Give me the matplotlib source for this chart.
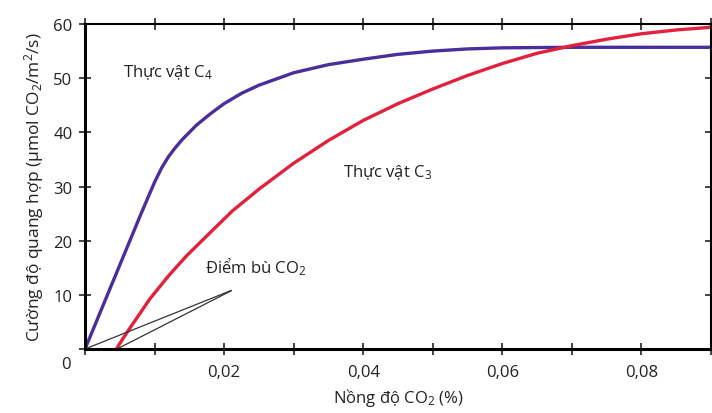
import matplotlib
matplotlib.use("Agg")
import matplotlib.pyplot as plt
from matplotlib.ticker import MultipleLocator, FuncFormatter

plt.rcParams['font.family'] = ['Open Sans', 'DejaVu Sans']
plt.rcParams['mathtext.fontset'] = 'custom'
plt.rcParams['mathtext.rm'] = 'Open Sans'
plt.rcParams['mathtext.it'] = 'Open Sans'
plt.rcParams['mathtext.default'] = 'regular'

# C4 plant curve
c4_x = [0, 0.004, 0.008, 0.010, 0.011, 0.012, 0.013, 0.014, 0.016, 0.018, 0.02,
        0.0225, 0.025, 0.03, 0.035, 0.04, 0.045, 0.05, 0.055, 0.06, 0.07, 0.09]
c4_y = [0, 12.4, 24.8, 30.8, 33.4, 35.5, 37.2, 38.7, 41.3, 43.4, 45.3,
        47.2, 48.7, 51, 52.5, 53.5, 54.4, 55, 55.4, 55.6, 55.7, 55.7]

# C3 plant curve
c3_x = [0.0045, 0.006, 0.0093, 0.012, 0.0146, 0.018, 0.0212, 0.025, 0.03, 0.035,
        0.04, 0.045, 0.05, 0.055, 0.06, 0.065, 0.07, 0.075, 0.08, 0.085, 0.09]
c3_y = [0, 3, 9.2, 13.5, 17.2, 21.5, 25.5, 29.5, 34.3, 38.5,
        42.2, 45.3, 48, 50.5, 52.7, 54.6, 56, 57.2, 58.2, 58.9, 59.4]

# CO2 compensation points
comp_x = [0, 0.0046]

fs = 12
fig = plt.figure(figsize=(7.12, 4.14), dpi=100)
ax = fig.add_axes([0.1194, 0.1546, 0.8792, 0.785])

ax.plot(c4_x, c4_y, color='#4a2f9c', lw=2.4, solid_capstyle='butt')
ax.plot(c3_x, c3_y, color='#e3213d', lw=2.4, solid_capstyle='butt')

ax.set_xlim(0, 0.09)
ax.set_ylim(0, 60)

ax.xaxis.set_major_locator(MultipleLocator(0.01))
ax.yaxis.set_major_locator(MultipleLocator(10))
ax.xaxis.set_major_formatter(FuncFormatter(
    lambda v, p: '' if round(v * 100) % 2 or v < 0.005 else f'{v:.2f}'.replace('.', ',')))
ax.yaxis.set_major_formatter(FuncFormatter(lambda v, p: '' if v < 1 else f'{v:.0f}'))
ax.tick_params(direction='inout', length=8, width=1.2, labelsize=fs,
               colors='#222222', top=True, right=True)
ax.tick_params(axis='x', pad=7)
ax.tick_params(axis='y', pad=5)
for s in ['left', 'bottom']:
    ax.spines[s].set_linewidth(2.2)
for s in ['top', 'right']:
    ax.spines[s].set_linewidth(1.5)

ax.text(-0.0028, -2.8, '0', ha='center', va='center', fontsize=fs, color='#222222',
        clip_on=False)

ax.set_xlabel('Nồng độ CO$_2$ (%)', fontsize=fs, color='#222222', labelpad=4)
ax.set_ylabel('Cường độ quang hợp (µmol CO$_2$/m$^2$/s)', fontsize=12.5,
              color='#222222', labelpad=5)

ax.text(0.0055, 50.3, 'Thực vật C$_4$', fontsize=fs, color='#222222')
ax.text(0.0371, 32.0, 'Thực vật C$_3$', fontsize=fs, color='#222222')

ax.text(0.0173, 14.2, 'Điểm bù CO$_2$', fontsize=fs, color='#222222')
for cx in comp_x:
    ax.annotate('', xy=(cx, 0), xytext=(0.0214, 11.0),
                arrowprops=dict(arrowstyle='-', color='#333333', lw=0.9))

fig.savefig('out.png', dpi=100)
